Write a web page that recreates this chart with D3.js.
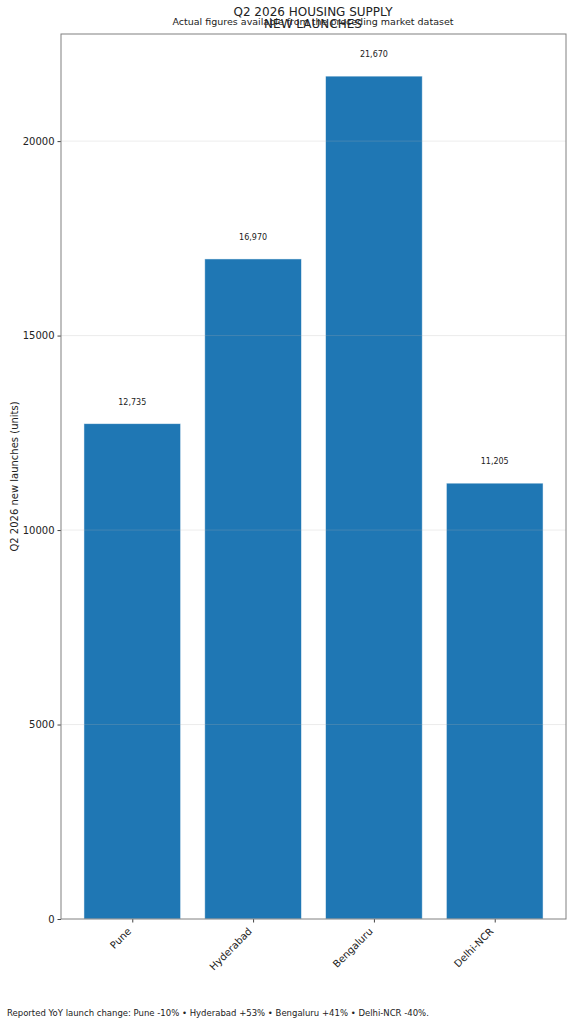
<!DOCTYPE html>
<html>
<head>
<meta charset="utf-8">
<script src="https://cdn.jsdelivr.net/npm/d3@7"></script>
<style>
  body { margin: 0; background: #fff; }
  text { font-family: "DejaVu Sans", sans-serif; fill: #222; }
</style>
</head>
<body>
<script>
// data
const cities = ["Pune", "Hyderabad", "Bengaluru", "Delhi-NCR"];
const launches = [12735, 16970, 21670, 11205];
const yTicks = [0, 5000, 10000, 15000, 20000];

const W = 573, H = 1024;
const m = {top: 34, right: 7, bottom: 105, left: 61};

const svg = d3.select("body").append("svg")
    .attr("width", W)
    .attr("height", H);

// matplotlib style margins: bars from -0.4 to n-0.6, padded 5%
const n = cities.length;
const lo = -0.4, hi = n - 0.6, pad = (hi - lo) * 0.05;
const x = d3.scaleLinear().domain([lo - pad, hi + pad]).range([m.left, W - m.right]);
const y = d3.scaleLinear().domain([0, d3.max(launches) * 1.05]).range([H - m.bottom, m.top]);
const bw = x(0.8) - x(0);

// bars
svg.selectAll(".bar")
    .data(launches)
    .enter().append("rect")
    .attr("class", "bar")
    .attr("x", (d, i) => x(i - 0.4))
    .attr("y", d => y(d))
    .attr("width", bw)
    .attr("height", d => y(0) - y(d))
    .attr("fill", "#1f77b4")
    .attr("stroke", "#ffffff")
    .attr("stroke-opacity", 0.6)
    .attr("stroke-width", 0.8);

// grid (faint, above bars)
svg.selectAll(".grid")
    .data(yTicks.slice(1))
    .enter().append("line")
    .attr("x1", m.left).attr("x2", W - m.right)
    .attr("y1", d => y(d)).attr("y2", d => y(d))
    .attr("stroke", "#b0b0b0")
    .attr("stroke-opacity", 0.3)
    .attr("stroke-width", 0.8);

// value labels
svg.selectAll(".val")
    .data(launches)
    .enter().append("text")
    .attr("x", (d, i) => x(i))
    .attr("y", d => y(d) - 19)
    .attr("text-anchor", "middle")
    .attr("font-size", 8)
    .text(d => d3.format(",")(d));

// axes
const yAxis = svg.append("g")
    .attr("transform", `translate(${m.left},0)`)
    .call(d3.axisLeft(y).tickValues(yTicks).tickFormat(d3.format("d")).tickSize(3.5).tickPadding(3));
yAxis.select(".domain").remove();
yAxis.selectAll("text").attr("font-size", 10).style("font-family", "DejaVu Sans");

const xAxis = svg.append("g")
    .attr("transform", `translate(0,${H - m.bottom})`)
    .call(d3.axisBottom(x).tickValues(d3.range(n)).tickFormat(i => cities[i]).tickSize(3.5));
xAxis.select(".domain").remove();
xAxis.selectAll("text")
    .attr("font-size", 10)
    .style("font-family", "DejaVu Sans")
    .attr("text-anchor", "end")
    .attr("x", 0)
    .attr("y", 0)
    .attr("dy", 0)
    .attr("transform", "translate(-1,13) rotate(-45)");
svg.selectAll(".tick line").attr("stroke", "#444");

// frame
svg.append("rect")
    .attr("x", m.left).attr("y", m.top)
    .attr("width", W - m.right - m.left)
    .attr("height", H - m.bottom - m.top)
    .attr("fill", "none")
    .attr("stroke", "#808080")
    .attr("stroke-width", 1);

// y label
svg.append("text")
    .attr("transform", `translate(18,${(m.top + H - m.bottom) / 2}) rotate(-90)`)
    .attr("text-anchor", "middle")
    .attr("font-size", 10)
    .text("Q2 2026 new launches (units)");

// titles (overlapping as in the original)
svg.append("text")
    .attr("x", 313).attr("y", 16)
    .attr("text-anchor", "middle")
    .attr("font-size", 12)
    .text("Q2 2026 HOUSING SUPPLY");
svg.append("text")
    .attr("x", 313).attr("y", 28)
    .attr("text-anchor", "middle")
    .attr("font-size", 12)
    .text("NEW LAUNCHES");
svg.append("text")
    .attr("x", 313).attr("y", 25)
    .attr("text-anchor", "middle")
    .attr("font-size", 9.5)
    .text("Actual figures available from the preceding market dataset");

// footnote
svg.append("text")
    .attr("x", 7).attr("y", 1016)
    .attr("font-size", 8.5)
    .text("Reported YoY launch change: Pune -10% \u2022 Hyderabad +53% \u2022 Bengaluru +41% \u2022 Delhi-NCR -40%.");
</script>
</body>
</html>
